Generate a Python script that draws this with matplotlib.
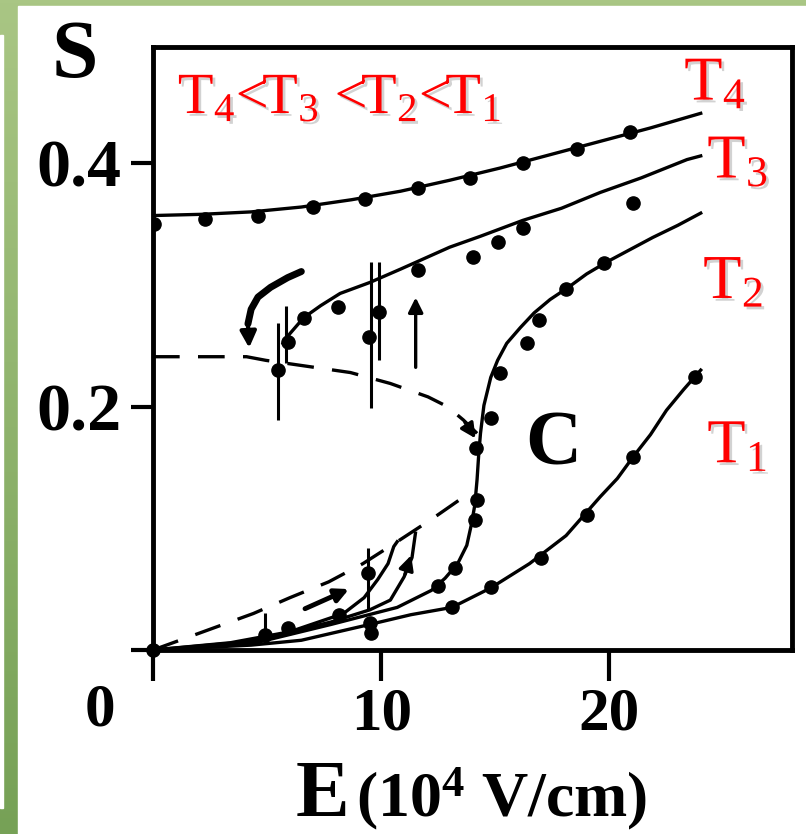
import numpy as np
import matplotlib.pyplot as plt
from matplotlib import patheffects as pe
from matplotlib.patches import Rectangle

plt.rcParams['mathtext.fontset'] = 'custom'
plt.rcParams['mathtext.rm'] = 'Liberation Serif'
plt.rcParams['mathtext.bf'] = 'Liberation Serif:bold'
plt.rcParams['mathtext.it'] = 'Liberation Serif:italic'

# ---- T4 : fit curve and measured points ----
t4_fit_E = [0, 2.1, 4.3, 6.5, 8.7, 10.85, 13.0, 15.2, 17.4, 19.6, 21.8, 24.0]
t4_fit_S = [0.357, 0.358, 0.360, 0.364, 0.370, 0.377, 0.386, 0.396, 0.407, 0.418, 0.429, 0.441]
t4_pts_E = [0.04, 2.3, 4.6, 7.0, 9.3, 11.6, 13.9, 16.2, 18.6, 20.9]
t4_pts_S = [0.350, 0.354, 0.357, 0.364, 0.371, 0.380, 0.388, 0.400, 0.412, 0.426]

# ---- T3 : upper branch ----
t3_fit_E = [5.7, 6.0, 6.6, 7.35, 8.2, 9.5, 10.85, 13.0, 14.35, 16.2, 17.9, 19.6, 21.4, 23.4, 24.0]
t3_fit_S = [0.252, 0.260, 0.273, 0.283, 0.293, 0.302, 0.313, 0.331, 0.340, 0.353, 0.363, 0.376, 0.388, 0.403, 0.406]
t3_pts_E = [5.47, 5.9, 6.6, 8.1, 9.45, 9.9, 11.6, 14.0, 15.1, 16.2, 21.05]
t3_pts_S = [0.230, 0.253, 0.273, 0.282, 0.257, 0.278, 0.312, 0.323, 0.335, 0.347, 0.367]

# error bars on the T3 branch
bar_E = [5.47, 5.82, 9.54, 9.89]
bar_lo = [0.189, 0.236, 0.199, 0.238]
bar_hi = [0.269, 0.283, 0.319, 0.319]

# ---- T2 : S-shaped curve ----
t2_fit_E = [0, 4.3, 7.8, 10.7, 12.2, 12.8, 13.35, 13.75, 13.95, 14.1, 14.2, 14.27, 14.35,
            14.5, 14.8, 15.1, 15.5, 16.1, 16.7, 17.4, 18.2, 19.0, 19.9, 20.9, 21.9, 23.0, 24.0]
t2_fit_S = [0, 0.005, 0.021, 0.035, 0.049, 0.059, 0.071, 0.086, 0.103, 0.119, 0.140, 0.160, 0.178,
            0.201, 0.224, 0.238, 0.252, 0.265, 0.277, 0.288, 0.298, 0.309, 0.319, 0.329, 0.339, 0.349, 0.359]
t2_pts_E = [12.5, 13.25, 14.1, 14.2, 14.15, 14.8, 15.2, 16.4, 16.9, 18.1, 19.75]
t2_pts_S = [0.053, 0.067, 0.107, 0.123, 0.166, 0.191, 0.228, 0.252, 0.271, 0.297, 0.318]

# ---- T1 : highest temperature ----
t1_fit_E = [0, 4.3, 6.5, 9.5, 11.3, 13.1, 14.8, 16.5, 18.1, 19.6, 20.35, 21.05, 21.8, 22.5, 23.25, 24.0]
t1_fit_S = [0, 0.004, 0.008, 0.021, 0.029, 0.035, 0.051, 0.071, 0.094, 0.126, 0.141, 0.159, 0.177, 0.197, 0.214, 0.230]
t1_pts_E = [9.54, 13.1, 14.8, 17.0, 19.0, 21.05, 23.75]
t1_pts_S = [0.014, 0.035, 0.052, 0.076, 0.111, 0.159, 0.224]

# ---- low-field branches ----
low_b_E = [0, 3.4, 6.0, 8.35, 9.25, 9.85, 10.3, 10.55, 10.7]
low_b_S = [0, 0.006, 0.015, 0.030, 0.043, 0.058, 0.071, 0.085, 0.089]
low_c_E = [0, 4.3, 7.8, 9.5, 10.4, 11.0, 11.35, 11.5]
low_c_S = [0, 0.007, 0.023, 0.033, 0.041, 0.060, 0.076, 0.096]
low_pts_E = [0.0, 4.9, 5.9, 8.15, 9.4, 9.5]
low_pts_S = [0.0, 0.012, 0.018, 0.029, 0.063, 0.022]
low_bar_E = [4.9, 9.4]
low_bar_lo = [0.006, 0.033]
low_bar_hi = [0.030, 0.084]

# ---- dashed guide lines ----
dash_up_E = [0, 4.1, 4.95, 6.8, 8.65, 10.4, 12.05, 12.9, 13.6, 14.2]
dash_up_S = [0.241, 0.241, 0.238, 0.233, 0.228, 0.219, 0.208, 0.200, 0.189, 0.178]
dash_lo_E = [0, 2.2, 4.4, 6.0, 7.7, 9.2, 10.7, 12.25, 13.4, 13.9]
dash_lo_S = [0, 0.015, 0.030, 0.043, 0.056, 0.071, 0.089, 0.108, 0.123, 0.131]

# curved hysteresis arrow
hyst_E = [6.5, 5.9, 5.15, 4.6, 4.3, 4.16]
hyst_S = [0.311, 0.306, 0.298, 0.290, 0.280, 0.268]

fig = plt.figure(figsize=(8.06, 8.34), dpi=100)

# green slide frame behind the figure
bg = fig.add_axes([0, 0, 1, 1], zorder=-5)
top_c = np.array([169, 198, 132]) / 255
bot_c = np.array([118, 161, 86]) / 255
g = np.linspace(0, 1, 256)[:, None, None]
grad = top_c * (1 - g) + bot_c * g
bg.imshow(grad, aspect='auto', extent=[0, 1, 0, 1])
bg.add_patch(Rectangle((18 / 806, 0), 1, 1 - 6 / 834, color='white'))
bg.add_patch(Rectangle((0, 1 - 808 / 834), 3 / 806, (808 - 35) / 834, color='white'))
bg.set_xlim(0, 1)
bg.set_ylim(0, 1)
bg.axis('off')

ax = fig.add_axes([153 / 806, 1 - 650 / 834, (792 - 153) / 806, (650 - 47) / 834])
ax.set_xlim(0, 28)
ax.set_ylim(0, 0.4955)

lw = 2.4
ms = 9.5
ax.plot(t4_fit_E, t4_fit_S, 'k-', lw=lw)
ax.plot(t4_pts_E, t4_pts_S, 'ko', ms=ms)
ax.plot(t3_fit_E, t3_fit_S, 'k-', lw=lw)
ax.plot(t3_pts_E, t3_pts_S, 'ko', ms=ms)
ax.plot(t2_fit_E, t2_fit_S, 'k-', lw=lw)
ax.plot(t2_pts_E, t2_pts_S, 'ko', ms=ms)
ax.plot(t1_fit_E, t1_fit_S, 'k-', lw=lw)
ax.plot(t1_pts_E, t1_pts_S, 'ko', ms=ms)
ax.plot(low_b_E, low_b_S, 'k-', lw=lw)
ax.plot(low_c_E, low_c_S, 'k-', lw=lw)
ax.plot(low_pts_E, low_pts_S, 'ko', ms=ms, clip_on=False)

ax.vlines(bar_E, bar_lo, bar_hi, colors='k', lw=2.2)
ax.vlines(low_bar_E, low_bar_lo, low_bar_hi, colors='k', lw=2.2)

ax.plot(dash_up_E, dash_up_S, 'k', lw=lw, dashes=(8, 5.5))
ax.plot(dash_lo_E, dash_lo_S, 'k', lw=lw, dashes=(8, 5.5))

arr = dict(arrowstyle='-|>', color='k', lw=2.4, mutation_scale=22)
ax.annotate('', xy=(dash_up_E[-1], dash_up_S[-1] - 0.006), xytext=(dash_up_E[-2], dash_up_S[-2]), arrowprops=arr)
ax.annotate('', xy=(11.51, 0.292), xytext=(11.51, 0.230), arrowprops=arr)
ax.annotate('', xy=(8.7, 0.051), xytext=(6.55, 0.033),
            arrowprops=dict(arrowstyle='-|>', color='k', lw=3.5, mutation_scale=20))
ax.annotate('', xy=(low_c_E[-2], low_c_S[-2] + 0.004), xytext=(low_c_E[-3], low_c_S[-3]), arrowprops=arr)

ax.plot(hyst_E, hyst_S, 'k-', lw=5, solid_capstyle='round')
ax.annotate('', xy=(4.22, 0.246), xytext=(hyst_E[-1], hyst_S[-1]),
            arrowprops=dict(arrowstyle='-|>', color='k', lw=3, mutation_scale=24))

# axes frame and ticks
for sp in ax.spines.values():
    sp.set_linewidth(3.5)
ax.set_xticks([0, 10, 20])
ax.set_xticklabels(['', '10', '20'])
ax.set_yticks([0, 0.2, 0.4])
ax.set_yticklabels(['', '0.2', '0.4'])
ax.tick_params(axis='x', direction='out', length=22, width=3, pad=4)
ax.tick_params(axis='y', direction='out', length=16, width=3, pad=7)
for lab in ax.get_xticklabels():
    lab.set_fontfamily('Liberation Serif')
    lab.set_fontweight('bold')
    lab.set_fontsize(44)
for lab in ax.get_yticklabels():
    lab.set_fontfamily('Liberation Serif')
    lab.set_fontweight('bold')
    lab.set_fontsize(49)

serif_bold = dict(family='Liberation Serif', weight='bold', color='k')
fig.text(100 / 806, 1 - 711 / 834, '0', ha='center', va='center', fontsize=44, **serif_bold)
fig.text(75 / 806, 1 - 57 / 834, 'S', ha='center', va='center', fontsize=60, **serif_bold)
fig.text(296 / 806, 1 - 833 / 834, 'E', ha='left', va='bottom', fontsize=58, **serif_bold)
fig.text(356 / 806, 1 - 816 / 834, r'(10$^{\mathbf{4}}$ V/cm)', ha='left', va='baseline',
         fontsize=46, **serif_bold)
ax.text(17.55, 0.168, 'C', ha='center', va='center', fontsize=56, **serif_bold)

# red temperature labels
shadow = [pe.withSimplePatchShadow(offset=(2, -2), shadow_rgbFace='gray', alpha=0.35)]
red = dict(family='Liberation Serif', color='red', va='baseline', ha='left', path_effects=shadow)
ax.text(1.09, 0.441, r'T$_4$<T$_3$ <T$_2$<T$_1$', fontsize=42, **red)
ax.text(23.28, 0.452, r'T$_4$', fontsize=45, **red)
ax.text(24.29, 0.388, r'T$_3$', fontsize=45, **red)
ax.text(24.11, 0.289, r'T$_2$', fontsize=45, **red)
ax.text(24.29, 0.154, r'T$_1$', fontsize=45, **red)

fig.savefig('out.png', dpi=100)
